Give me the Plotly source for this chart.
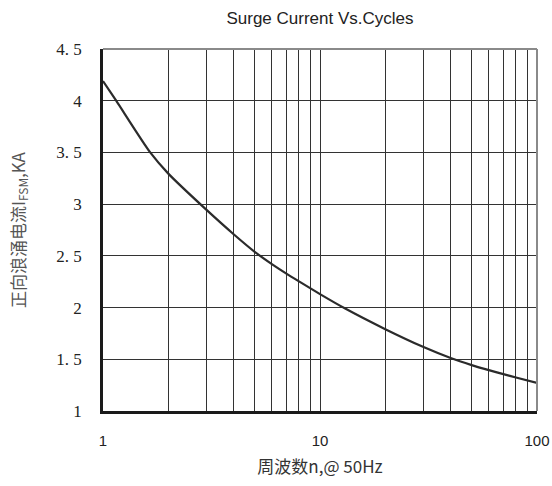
import plotly.graph_objects as go

# Data
cycles = [1, 1.15, 1.65, 2, 3, 4, 5, 6, 7, 8, 10, 13, 20, 30, 40, 50, 60, 70, 80, 100]
current_ka = [4.19, 4.0, 3.5, 3.295, 2.944, 2.709, 2.539, 2.42, 2.328, 2.253, 2.13, 1.993,
              1.791, 1.618, 1.512, 1.444, 1.395, 1.356, 1.324, 1.271]

x_tick_vals = [1, 10, 100]
x_tick_text = ["1", "10", "100"]
x_minor_vals = [2, 3, 4, 5, 6, 7, 8, 9, 20, 30, 40, 50, 60, 70, 80, 90]
y_tick_vals = [1, 1.5, 2, 2.5, 3, 3.5, 4, 4.5]
y_tick_text = ["1", "1.\u00a05", "2", "2.\u00a05", "3", "3.\u00a05", "4", "4.\u00a05"]

W, H = 552, 486

fig = go.Figure()
fig.add_trace(go.Scatter(
    x=cycles, y=current_ka, mode="lines",
    line=dict(color="#2b2b2b", width=2.2, shape="spline", smoothing=0.7),
    showlegend=False, hoverinfo="skip",
))

fig.update_layout(
    width=W, height=H,
    margin=dict(l=103, r=15, t=49, b=75, autoexpand=False),
    paper_bgcolor="white", plot_bgcolor="white",
    title=dict(text="Surge Current Vs.Cycles", x=0.5, xanchor="center", xref="paper",
               y=1 - 18 / H, yanchor="middle",
               font=dict(family="Liberation Sans, Arial", size=17, color="#222222")),
    xaxis=dict(
        type="log", range=[0, 2], automargin=False,
        tickmode="array", tickvals=x_tick_vals, ticktext=x_tick_text,
        showgrid=True, gridcolor="#333333", gridwidth=1.3,
        minor=dict(tickmode="array", tickvals=x_minor_vals, showgrid=True,
                   gridcolor="#333333", gridwidth=1.3, ticks=""),
        showline=True, linecolor="#1a1a1a", linewidth=2.5, mirror=False,
        ticks="outside", ticklen=14, tickcolor="rgba(0,0,0,0)", zeroline=False,
        ticklabeloverflow="allow",
        tickfont=dict(family="Liberation Sans, Arial", size=15, color="#222222"),
        title=dict(text="周波数n,@ 50Hz", standoff=14,
                   font=dict(family="Noto Sans CJK SC", size=17, color="#333333")),
    ),
    yaxis=dict(
        range=[1, 4.5], automargin=False,
        tickmode="array", tickvals=y_tick_vals, ticktext=y_tick_text,
        showgrid=True, gridcolor="#333333", gridwidth=1.3,
        showline=True, linecolor="#1a1a1a", linewidth=2.5, mirror=False,
        ticks="outside", ticklen=15, tickcolor="rgba(0,0,0,0)", zeroline=False,
        tickfont=dict(family="Liberation Serif, DejaVu Serif", size=17, color="#222222"),
        title=dict(text="正向浪涌电流I<sub>FSM</sub>,KA", standoff=27,
                   font=dict(family="Noto Sans CJK SC", size=17, color="#555555")),
    ),
)

# top and right frame lines (lighter gray)
fig.add_shape(type="line", xref="paper", yref="paper", x0=0, x1=1, y0=1, y1=1,
              line=dict(color="#8a8a8a", width=2))
fig.add_shape(type="line", xref="paper", yref="paper", x0=1, x1=1, y0=0, y1=1,
              line=dict(color="#8a8a8a", width=2))

fig.write_html(
    "out.html",
    config={"displayModeBar": False},
    post_script="document.body.style.margin='0';document.body.style.overflow='hidden';",
)
